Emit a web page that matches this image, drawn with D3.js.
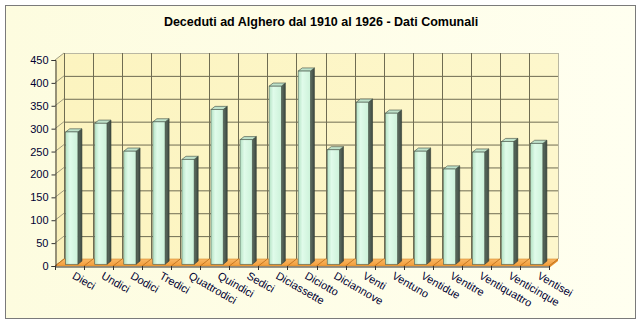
<!DOCTYPE html>
<html>
<head>
<meta charset="utf-8">
<script src="https://cdn.jsdelivr.net/npm/d3@7"></script>
<style>
  html, body { margin: 0; padding: 0; background: #ffffff; }
  svg { display: block; }
  text { font-family: "Liberation Sans", Arial, sans-serif; }
</style>
</head>
<body>
<svg id="chart" width="640" height="324"></svg>
<script>
// Deaths recorded in Alghero, one bar per year 1910–1926
const categories = ["Dieci", "Undici", "Dodici", "Tredici", "Quattrodici", "Quindici", "Sedici",
  "Diciassette", "Diciotto", "Diciannove", "Venti", "Ventuno", "Ventidue", "Ventitre",
  "Ventiquattro", "Venticinque", "Ventisei"];
const deaths = [289, 308, 247, 311, 229, 338, 272, 389, 422, 250, 354, 330, 247, 208, 245, 268, 264];
const yTicks = [0, 50, 100, 150, 200, 250, 300, 350, 400, 450];
const title = "Deceduti ad Alghero dal 1910 al 1926 - Dati Comunali";

const svg = d3.select("#chart");

// 3D depth of the plot box (offset from front plane to back wall)
const DX = 9, DY = -7;
const P = (x, y, f) => [x + f * DX, y + f * DY];

const x = d3.scaleBand().domain(categories).range([55, 549]).paddingInner(0).paddingOuter(0);
const y = d3.scaleLinear().domain([0, 450]).range([266, 60]);

const defs = svg.append("defs");

const bg = defs.append("linearGradient").attr("id", "bg").attr("x1", 0).attr("x2", 1).attr("y1", 0).attr("y2", 0);
bg.append("stop").attr("offset", 0).attr("stop-color", "#fdfcdf");
bg.append("stop").attr("offset", 1).attr("stop-color", "#fffff0");

const wall = defs.append("linearGradient").attr("id", "wall").attr("x1", 0).attr("x2", 1).attr("y1", 0).attr("y2", 0);
wall.append("stop").attr("offset", 0).attr("stop-color", "#fcf4c0");
wall.append("stop").attr("offset", 1).attr("stop-color", "#fdf7cc");

const front = defs.append("linearGradient").attr("id", "barFront").attr("x1", 0).attr("x2", 1).attr("y1", 0).attr("y2", 0);
front.append("stop").attr("offset", 0).attr("stop-color", "#b4e2c4");
front.append("stop").attr("offset", 0.35).attr("stop-color", "#e0fbea");
front.append("stop").attr("offset", 1).attr("stop-color", "#cdf2da");

const side = defs.append("linearGradient").attr("id", "barSide").attr("x1", 0).attr("x2", 1).attr("y1", 0).attr("y2", 0);
side.append("stop").attr("offset", 0).attr("stop-color", "#5f6f62");
side.append("stop").attr("offset", 1).attr("stop-color", "#3e4a42");

const floorG = defs.append("linearGradient").attr("id", "floor").attr("x1", 0).attr("x2", 0).attr("y1", 0).attr("y2", 1);
floorG.append("stop").attr("offset", 0).attr("stop-color", "#f8b866");
floorG.append("stop").attr("offset", 1).attr("stop-color", "#f39c38");

// chart area background with frame
svg.append("rect").attr("x", 5.5).attr("y", 5.5).attr("width", 630).attr("height", 313)
  .attr("fill", "url(#bg)").attr("stroke", "#7a7a7a").attr("stroke-width", 1);

// title
svg.append("text").attr("x", 321).attr("y", 26).attr("text-anchor", "middle")
  .attr("font-size", 12.5).attr("font-weight", "bold").attr("fill", "#000000").text(title);

const y0 = y(0), yTop = y(450), xL = x.range()[0], xR = x.range()[1];
const poly = pts => pts.map(p => p.join(",")).join(" ");

// back wall
const bwTL = P(xL, yTop, 1), bwBR = P(xR, y0, 1);
svg.append("rect").attr("x", bwTL[0]).attr("y", bwTL[1])
  .attr("width", bwBR[0] - bwTL[0]).attr("height", bwBR[1] - bwTL[1]).attr("fill", "url(#wall)");
// left side wall
svg.append("polygon").attr("points", poly([P(xL, yTop, 0), P(xL, yTop, 1), P(xL, y0, 1), P(xL, y0, 0)]))
  .attr("fill", "#f9f0ba");

const gridColor = "#6f6c52";
// horizontal grid on back wall + diagonals on side wall
yTicks.forEach(t => {
  const a = P(xL, y(t), 1), b = P(xR, y(t), 1), c = P(xL, y(t), 0);
  const col = t === 450 ? "#b9b7a2" : gridColor;
  svg.append("line").attr("x1", a[0]).attr("y1", a[1] + 0.5).attr("x2", b[0]).attr("y2", b[1] + 0.5)
    .attr("stroke", col).attr("stroke-width", 1);
  svg.append("line").attr("x1", c[0]).attr("y1", c[1]).attr("x2", a[0]).attr("y2", a[1])
    .attr("stroke", "#8a8870").attr("stroke-width", 0.8);
});
// vertical grid on back wall at category boundaries
const bounds = categories.map(c => x(c)).concat([xR]);
bounds.forEach((bx, i) => {
  const a = P(bx, yTop, 1), b = P(bx, y0, 1);
  const col = (i === bounds.length - 1) ? "#b9b7a2" : gridColor;
  svg.append("line").attr("x1", Math.round(a[0]) + 0.5).attr("y1", a[1]).attr("x2", Math.round(b[0]) + 0.5).attr("y2", b[1])
    .attr("stroke", col).attr("stroke-width", 1);
});

// floor
svg.append("polygon").attr("points", poly([P(xL, y0, 0), P(xR, y0, 0), P(xR, y0, 1), P(xL, y0, 1)]))
  .attr("fill", "url(#floor)").attr("stroke", "#d98a2a").attr("stroke-width", 0.6);
svg.append("polygon").attr("points", poly([P(xR, y0, 0), P(xR, y0, 1), [P(xR, y0, 1)[0], P(xR, y0, 1)[1] + 2], [xR, y0 + 2]]))
  .attr("fill", "#e58f2c");
bounds.forEach(bx => {
  const a = P(bx, y0, 0), b = P(bx, y0, 1);
  svg.append("line").attr("x1", a[0]).attr("y1", a[1]).attr("x2", b[0]).attr("y2", b[1])
    .attr("stroke", "#b86a18").attr("stroke-width", 0.8);
});

// bars (sitting between depth f1 and f2 of the box)
const f1 = 0.25, f2 = 0.7;
const bw = x.bandwidth() * 0.42;
const bars = svg.append("g");
categories.forEach((c, i) => {
  const v = deaths[i];
  const xa = x(c) + (x.bandwidth() - bw) / 2, xb = xa + bw;
  const ft = P(xa, y(v), f1), fb = P(xb, y0, f1);
  const g = bars.append("g");
  // right side face
  g.append("polygon").attr("points", poly([P(xb, y(v), f1), P(xb, y(v), f2), P(xb, y0, f2), P(xb, y0, f1)]))
    .attr("fill", "url(#barSide)").attr("stroke", "#2f3a33").attr("stroke-width", 0.6);
  // top face
  g.append("polygon").attr("points", poly([P(xa, y(v), f1), P(xb, y(v), f1), P(xb, y(v), f2), P(xa, y(v), f2)]))
    .attr("fill", "#bfe2ca").attr("stroke", "#3d4a40").attr("stroke-width", 0.6);
  // front face
  g.append("rect").attr("x", ft[0]).attr("y", ft[1]).attr("width", fb[0] - ft[0]).attr("height", fb[1] - ft[1])
    .attr("fill", "url(#barFront)").attr("stroke", "#4a5a4e").attr("stroke-width", 0.6);
});

// y axis
const yAxis = d3.axisLeft(y).tickValues(yTicks).tickSize(4).tickPadding(3);
const ya = svg.append("g").attr("transform", `translate(${xL + 0.5},0)`).call(yAxis);
ya.select(".domain").attr("stroke", "#333333");
ya.selectAll(".tick line").attr("stroke", "#333333");
ya.selectAll(".tick text").attr("font-size", 11).attr("fill", "#000033")
  .attr("font-family", "'Liberation Sans', Arial, sans-serif");

// x axis (front edge of the floor)
const xAxis = d3.axisBottom(x).tickSize(0).tickFormat("");
const xa = svg.append("g").attr("transform", `translate(0,${y0 + 0.5})`).call(xAxis);
xa.select(".domain").attr("stroke", "#333333");
xa.selectAll(".tick").remove();
bounds.forEach(bx => {
  svg.append("line").attr("x1", Math.round(bx) + 0.5).attr("y1", y0).attr("x2", Math.round(bx) + 0.5).attr("y2", y0 + 4)
    .attr("stroke", "#333333");
});

// rotated category labels
svg.append("g").selectAll("text").data(categories).join("text")
  .attr("transform", d => `translate(${x(d) + x.bandwidth() / 2 + 2},${y0 + 12}) rotate(30)`)
  .attr("font-size", 11).attr("fill", "#000033").text(d => d);
</script>
</body>
</html>
